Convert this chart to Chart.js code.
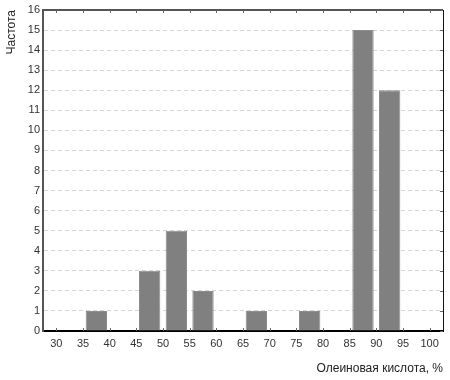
<!DOCTYPE html>
<html>
<head>
<meta charset="utf-8">
<script src="https://cdn.jsdelivr.net/npm/chart.js@4"></script>
<style>
  html, body { margin: 0; padding: 0; background: #fff; }
  #wrap { width: 450px; height: 380px; }
</style>
</head>
<body>
<div id="wrap"><canvas id="c"></canvas></div>
<script>
// histogram bins (left edge of each 5% bin) and counts
const binStarts = [35, 45, 50, 55, 65, 75, 85, 90]
const counts = [1, 3, 5, 2, 1, 1, 15, 12]
const xTicks = [30, 35, 40, 45, 50, 55, 60, 65, 70, 75, 80, 85, 90, 95, 100]
const binWidth = 5

Chart.defaults.font.family = '"Liberation Sans", Arial, sans-serif'
Chart.defaults.font.size = 11
Chart.defaults.color = '#333'

// top / right frame lines and small inward tick marks
const frame = {
  id: 'frame',
  afterDraw(chart) {
    const { ctx, chartArea: a, scales } = chart
    ctx.save()
    ctx.strokeStyle = '#555'
    ctx.lineWidth = 2
    ctx.beginPath()
    ctx.moveTo(a.left, a.top)
    ctx.lineTo(a.right, a.top)
    ctx.stroke()
    ctx.strokeStyle = '#111'
    ctx.lineWidth = 1
    ctx.beginPath()
    ctx.moveTo(a.right + 0.5, a.top)
    ctx.lineTo(a.right + 0.5, a.bottom)
    ctx.stroke()
    ctx.strokeStyle = '#666'
    xTicks.forEach(v => {
      const px = Math.round(scales.x.getPixelForValue(v)) + 0.5
      ctx.beginPath()
      ctx.moveTo(px, a.bottom)
      ctx.lineTo(px, a.bottom - 3)
      ctx.moveTo(px, a.top)
      ctx.lineTo(px, a.top + 3)
      ctx.stroke()
    })
    for (let v = 0; v <= 16; v++) {
      const py = Math.round(scales.y.getPixelForValue(v)) + 0.5
      ctx.beginPath()
      ctx.moveTo(a.right, py)
      ctx.lineTo(a.right - 3, py)
      ctx.stroke()
    }
    ctx.restore()
  }
}

new Chart(document.getElementById('c'), {
  type: 'bar',
  data: {
    datasets: [{
      data: binStarts.map((s, i) => ({ x: s + binWidth / 2, y: counts[i] })),
      backgroundColor: '#808080',
      borderColor: '#8c8c8c',
      borderWidth: 1,
      barPercentage: 0.8,
      categoryPercentage: 1
    }]
  },
  options: {
    animation: false,
    responsive: true,
    maintainAspectRatio: false,
    layout: { padding: { top: 10, right: 7, left: 0, bottom: 0 } },
    plugins: {
      legend: { display: false },
      tooltip: { enabled: false }
    },
    scales: {
      x: {
        type: 'linear',
        offset: false,
        min: 27.5,
        max: 102.5,
        afterBuildTicks: (scale) => { scale.ticks = xTicks.map(v => ({ value: v })) },
        afterFit: (scale) => { scale.height = 49 },
        ticks: { padding: 6, maxRotation: 0, autoSkip: false },
        grid: { display: false, drawTicks: false },
        border: { color: '#000', width: 2 },
        title: {
          display: true,
          text: 'Олеиновая кислота, %',
          align: 'end',
          font: { size: 12 },
          color: '#222',
          padding: { top: 6 }
        }
      },
      y: {
        min: 0,
        max: 16,
        afterFit: (scale) => { scale.width = 43 },
        ticks: { stepSize: 1, padding: 3 },
        grid: { color: '#d6d6d6', drawTicks: false },
        border: { color: '#555', width: 2, dash: [4, 3] },
        title: {
          display: true,
          text: 'Частота',
          align: 'end',
          font: { size: 12 },
          color: '#222',
          padding: { bottom: 4 }
        }
      }
    }
  },
  plugins: [frame]
})
</script>
</body>
</html>
